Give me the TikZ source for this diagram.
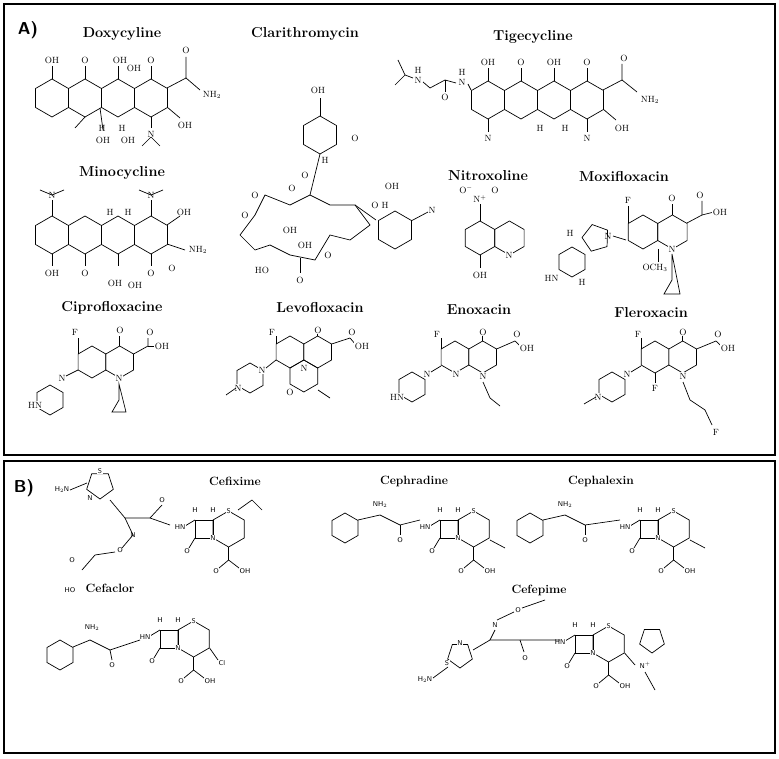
\documentclass[tikz,border=0pt]{standalone}
\usetikzlibrary{calc}
\begin{document}
\begin{tikzpicture}[x=1pt,y=-1pt,
 bond/.style={line width=0.7pt},
 ttl/.style={font=\bfseries\Large},
 lb/.style={font=\small,inner sep=0.5pt,fill=white},
 sl/.style={font=\scriptsize\sffamily,inner sep=0.5pt,fill=white}]
\newcommand\hexr[4]{\draw[bond,shift={(#1,#2)},rotate=#4] (90:#3)--(150:#3)--(210:#3)--(270:#3)--(330:#3)--(30:#3)--cycle;}
\newcommand\pentr[4]{\draw[bond,shift={(#1,#2)},rotate=#4] (90:#3)--(162:#3)--(234:#3)--(306:#3)--(18:#3)--cycle;}
\newcommand\ceph[2]{%
 \begin{scope}[shift={(#1,#2)}]
 \draw[bond] (0,0) rectangle (18,18);
 \hexr{33.6}{9}{18}{0}
 \node[sl] at (33.6,-9) {S};
 \node[sl] at (18,18) {N};
 \draw[bond] (0,18)--(-6,28); \node[sl] at (-8,31) {O};
 \draw[bond] (33.6,27)--(33.6,40); \draw[bond] (33.6,40)--(24,48); \node[sl] at (21,51) {O};
 \draw[bond] (33.6,40)--(44,48); \node[sl] at (50,51) {OH};
 \node[sl] at (0,-10) {H}; \node[sl] at (18,-10) {H};
 \draw[bond] (0,0)--(-10,6); \node[sl] at (-15,7) {HN};
 \end{scope}}
\useasboundingbox (0,0) rectangle (779,759);
\fill[white] (0,0) rectangle (779,759);
\draw[line width=1.3pt] (4,4) rectangle (775,455);
\draw[line width=1.3pt] (4,461) rectangle (775,753);
\node[font=\sffamily\bfseries\LARGE] (A) at (28,30) {A)};
\node[font=\sffamily\bfseries\LARGE] (B) at (24,488) {B)};
% titles
\node[ttl] (t1) at (122,34) {Doxycyline};
\node[ttl] (t2) at (305,34) {Clarithromycin};
\node[ttl] (t3) at (533,37) {Tigecycline};
\node[ttl] (t4) at (122,173) {Minocycline};
\node[ttl] (t5) at (488,176) {Nitroxoline};
\node[ttl] (t6) at (624,177) {Moxifloxacin};
\node[ttl] (t7) at (112,308) {Ciprofloxacine};
\node[ttl] (t8) at (320,308) {Levofloxacin};
\node[ttl] (t9) at (479,310) {Enoxacin};
\node[ttl] (t10) at (651,313) {Fleroxacin};
\node[font=\bfseries\large] (b1) at (235,481) {Cefixime};
\node[font=\bfseries\large] (b2) at (414,481) {Cephradine};
\node[font=\bfseries\large] (b3) at (601,481) {Cephalexin};
\node[font=\bfseries\large] (b4) at (110,588) {Cefaclor};
\node[font=\bfseries\large] (b5) at (539,590) {Cefepime};
% Doxycyline
\foreach \c in {52,85,118,151} {\hexr{\c}{98}{19}{0} \draw[bond] (\c,79)--(\c,66);}
\node[lb] at (52,60) {OH}; \node[lb] at (85,60) {O}; \node[lb] at (120,60) {OH}; \node[lb] at (151,60) {O};
\node[lb] at (134,68) {OH}; \node[lb] at (186,50) {O}; \node[lb] at (212,95) {NH$_2$};
\draw[bond] (167,88)--(186,78)--(186,57); \draw[bond] (186,78)--(200,90);
\draw[bond] (167,107)--(180,118); \node[lb] at (185,125) {OH};
\node[lb] at (102,128) {H}; \node[lb] at (122,128) {H};
\draw[bond] (100,108)--(103,130); \node[lb] at (103,140) {OH}; \node[lb] at (128,140) {OH};
\draw[bond] (151,117)--(151,128); \node[lb] at (151,134) {N}; \draw[bond] (151,137)--(160,146); \draw[bond] (151,137)--(142,146);
\draw[bond] (85,117)--(75,128);
% Minocycline
\foreach \c in {52,85,118,151} {\hexr{\c}{235}{19}{0} \draw[bond] (\c,254)--(\c,266);}
\draw[bond] (52,216)--(52,200); \node[lb] at (52,195) {N}; \draw[bond] (40,190)--(52,195)--(64,190);
\draw[bond] (151,216)--(151,200); \node[lb] at (151,195) {N}; \draw[bond] (139,190)--(151,195)--(163,190);
\node[lb] at (110,212) {H}; \node[lb] at (128,212) {H};
\node[lb] at (184,212) {OH}; \node[lb] at (198,250) {NH$_2$};
\draw[bond] (167,225)--(180,216); \draw[bond] (167,244)--(185,250);
\node[lb] at (52,273) {OH}; \node[lb] at (85,273) {O}; \node[lb] at (115,283) {OH};
\node[lb] at (135,285) {OH}; \node[lb] at (151,273) {O}; \node[lb] at (172,268) {O};
% Clarithromycin
\draw[bond] (240,235)--(255,215)--(265,195)--(290,205)--(310,195)--(330,205)--(355,205)--(370,225)--(350,240)--(330,235)--(315,260)--(290,255)--(270,245)--(255,250)--cycle;
\hexr{320}{135}{19}{0}
\hexr{395}{230}{19}{0}
\draw[bond] (320,116)--(320,98); \draw[bond] (320,154)--(310,195);
\draw[bond] (376,220)--(355,205); \draw[bond] (411,221)--(428,212);
\node[lb] at (318,90) {OH}; \node[lb] at (355,138) {O}; \node[lb] at (325,160) {H};
\node[lb] at (305,175) {O}; \node[lb] at (255,195) {O}; \node[lb] at (245,215) {O};
\node[lb] at (292,188) {O}; \node[lb] at (375,205) {O}; \node[lb] at (385,205) {H};
\node[lb] at (392,186) {OH}; \node[lb] at (432,210) {N};
\node[lb] at (262,270) {HO}; \node[lb] at (305,245) {OH}; \node[lb] at (328,255) {O};
\node[lb] at (300,280) {O}; \node[lb] at (290,230) {OH};
\draw[bond] (300,258)--(300,273);
% Tigecycline
\foreach \c in {488,521,554,587} {\hexr{\c}{100}{19}{0} \draw[bond] (\c,81)--(\c,68);}
\node[lb] at (488,62) {OH}; \node[lb] at (521,62) {O}; \node[lb] at (554,62) {OH};
\node[lb] at (587,62) {O}; \node[lb] at (624,58) {O}; \node[lb] at (650,100) {NH$_2$};
\draw[bond] (603,90)--(622,80)--(622,64); \draw[bond] (622,80)--(637,92);
\draw[bond] (603,109)--(616,120); \node[lb] at (622,128) {OH};
\draw[bond] (488,119)--(488,132); \node[lb] at (488,138) {N};
\draw[bond] (587,119)--(587,132); \node[lb] at (587,138) {N};
\node[lb] at (540,128) {H}; \node[lb] at (565,128) {H};
\node[lb] at (462,82) {N}; \node[lb] at (462,72) {H}; \node[lb] at (445,97) {O};
\node[lb] at (418,80) {N}; \node[lb] at (418,70) {H};
\draw[bond] (398,60)--(405,75)--(395,85); \draw[bond] (405,75)--(413,78); \draw[bond] (423,82)--(430,88)--(445,80)--(456,83);
\draw[bond] (445,80)--(445,92); \draw[bond] (468,84)--(471,90);
% Nitroxoline
\hexr{480}{238}{17}{0} \hexr{509.4}{238}{17}{0}
\draw[bond] (480,221)--(480,204);
\node[lb] at (480,199) {N$^+$}; \node[lb] at (466,190) {O$^-$}; \node[lb] at (495,190) {O};
\draw[bond] (480,255)--(480,268); \node[lb] at (480,275) {OH}; \node[lb] at (509,255) {N};
% Moxifloxacin
\hexr{643}{232}{17}{0} \hexr{672.4}{232}{17}{0}
\draw[bond] (628,223)--(628,206); \draw[bond] (672.4,215)--(672.4,204); \draw[bond] (687,223)--(702,215)--(702,201); \draw[bond] (702,215)--(714,212);
\node[lb] at (628,200) {F}; \node[lb] at (672,198) {O}; \node[lb] at (720,212) {OH}; \node[lb] at (700,195) {O};
\node[lb] at (672,249) {N}; \node[lb] at (655,268) {OCH$_3$}; \node[lb] at (608,236) {N};
\draw[bond] (658,249)--(658,262);
\draw[bond] (672,254)--(672,280)--(664,294)--(680,294)--cycle;
\draw[bond] (613,236)--(626,240);
\pentr{596}{238}{14}{-20} \hexr{572}{262}{15}{0}
\node[lb] at (555,278) {N}; \node[lb] at (548,278) {H}; \node[lb] at (582,282) {H}; \node[lb] at (570,233) {H};
% Ciprofloxacine
\hexr{92}{362}{16}{0} \hexr{119.7}{362}{16}{0}
\draw[bond] (78,354)--(78,338); \draw[bond] (119.7,346)--(119.7,336); \draw[bond] (133.6,354)--(148,346)--(148,338); \draw[bond] (148,346)--(157,346);
\node[lb] at (75,332) {F}; \node[lb] at (120,330) {O}; \node[lb] at (150,332) {O}; \node[lb] at (162,346) {OH};
\node[lb] at (119,378) {N}; \node[lb] at (62,378) {N};
\draw[bond] (66,376)--(78,370);
\hexr{50}{400}{15}{0} \node[lb] at (35,405) {HN};
\draw[bond] (119,384)--(119,400)--(112,412)--(126,412)--cycle;
% Levofloxacin
\hexr{290}{352}{16}{0} \hexr{317.7}{352}{16}{0} \hexr{303.8}{376}{16}{0}
\draw[bond] (276,344)--(276,336); \draw[bond] (317.7,336)--(317.7,334); \draw[bond] (331.6,344)--(350,338); \draw[bond] (350,338)--(356,345);
\node[lb] at (272,332) {F}; \node[lb] at (318,330) {O}; \node[lb] at (352,332) {O}; \node[lb] at (362,346) {OH};
\node[lb] at (304,368) {N}; \node[lb] at (290,392) {O};
\hexr{250}{378}{15}{0} \node[lb] at (262,370) {N}; \node[lb] at (238,388) {N}; \draw[bond] (226,395)--(236,388);
\draw[bond] (266,368)--(276,360);
\draw[bond] (318,390)--(330,398);
% Enoxacin
\hexr{455}{357}{16}{0} \hexr{482.7}{357}{16}{0}
\draw[bond] (441,349)--(441,338); \draw[bond] (482.7,341)--(482.7,336); \draw[bond] (496.6,349)--(515,341); \draw[bond] (515,341)--(521,347);
\node[lb] at (437,334) {F}; \node[lb] at (483,332) {O}; \node[lb] at (517,334) {O}; \node[lb] at (527,348) {OH};
\node[lb] at (456,374) {N}; \node[lb] at (483,376) {N}; \node[lb] at (427,374) {N};
\draw[bond] (431,372)--(441,366);
\hexr{412}{387}{15}{0} \node[lb] at (397,397) {HN};
\draw[bond] (483,382)--(490,398)--(500,406);
% Fleroxacin
\hexr{655}{357}{16}{0} \hexr{682.7}{357}{16}{0}
\draw[bond] (641,349)--(641,338); \draw[bond] (682.7,341)--(682.7,336); \draw[bond] (696.6,349)--(716,341); \draw[bond] (716,341)--(722,347);
\node[lb] at (638,334) {F}; \node[lb] at (683,332) {O}; \node[lb] at (718,334) {O}; \node[lb] at (728,348) {OH};
\node[lb] at (683,376) {N}; \node[lb] at (655,388) {F}; \node[lb] at (627,374) {N};
\draw[bond] (655,373)--(655,383); \draw[bond] (631,372)--(641,366);
\hexr{612}{387}{15}{0} \node[lb] at (598,397) {N}; \draw[bond] (584,404)--(596,397);
\draw[bond] (683,382)--(690,400)--(705,410)--(712,425); \node[lb] at (716,432) {F};
% Cefixime
\ceph{195}{520}
\pentr{100}{485}{14}{0} \node[sl] at (100,471) {S}; \node[sl] at (90,498) {N};
\node[sl] at (62,490) {H$_2$N}; \draw[bond] (70,490)--(87,483);
\draw[bond] (110,500)--(125,518)--(150,518)--(162,505); \node[sl] at (162,500) {O};
\draw[bond] (150,518)--(170,525); \node[sl] at (133,535) {N}; \node[sl] at (120,550) {O};
\draw[bond] (125,518)--(133,535); \draw[bond] (133,535)--(122,548); \draw[bond] (115,552)--(95,555)--(82,570); \node[sl] at (72,560) {O}; \node[sl] at (70,590) {HO};
\draw[bond] (238,510)--(252,500)--(262,510);
% Cephradine
\ceph{440}{520}
\hexr{345}{528}{15}{0}
\draw[bond] (358,520)--(380,515)--(400,525)--(420,520); \node[sl] at (380,505) {NH$_2$};
\node[sl] at (400,540) {O}; \draw[bond] (400,525)--(400,535); \draw[bond] (490,540)--(505,548);
% Cephalexin
\ceph{640}{520}
\hexr{530}{528}{15}{0}
\draw[bond] (543,520)--(565,515)--(585,525)--(620,520); \node[sl] at (565,505) {NH$_2$};
\node[sl] at (585,540) {O}; \draw[bond] (585,525)--(585,535); \draw[bond] (690,540)--(705,548);
% Cefaclor
\ceph{160}{630}
\hexr{60}{655}{15}{0}
\draw[bond] (73,647)--(90,640)--(110,650)--(140,640); \node[sl] at (92,628) {NH$_2$};
\node[sl] at (112,665) {O}; \draw[bond] (110,650)--(112,660); \node[sl] at (222,663) {Cl}; \draw[bond] (209.6,648)--(218,660);
% Cefepime
\ceph{575}{635}
\pentr{460}{655}{13}{0} \node[sl] at (447,663) {S}; \node[sl] at (460,643) {N};
\node[sl] at (425,680) {H$_2$N}; \draw[bond] (433,678)--(448,667);
\draw[bond] (473,650)--(490,640)--(520,640)--(560,640); \node[sl] at (495,625) {N}; \draw[bond] (490,640)--(495,630);
\node[sl] at (518,610) {O}; \draw[bond] (497,620)--(514,612);
\node[sl] at (525,658) {O}; \draw[bond] (520,640)--(524,652); \draw[bond] (522,608)--(545,600);
\draw[bond] (624.6,653)--(635,665); \node[sl] at (645,665) {N$^+$};
\pentr{652}{640}{13}{0} \draw[bond] (645,672)--(655,690);
\end{tikzpicture}
\end{document}
